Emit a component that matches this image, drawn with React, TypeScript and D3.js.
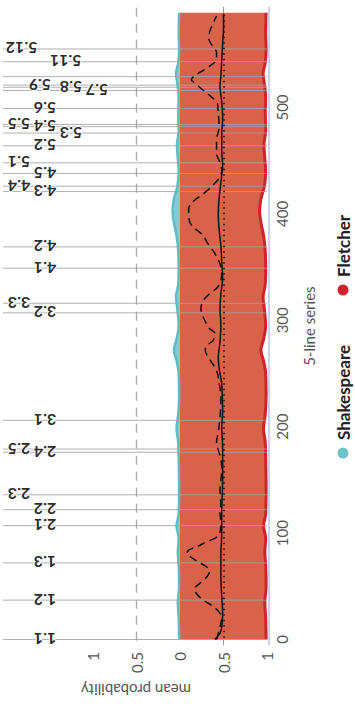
import { useEffect, useRef } from 'react'
import * as d3 from 'd3'

// scene boundaries (5-line series index) and their labels
const sceneStarts = [0, 37, 72, 107, 122, 136, 176, 179, 206, 307, 316, 349, 369, 421, 426, 438, 448, 464, 476, 482, 484, 499, 516, 519, 521, 529, 543, 555]
const sceneLabels = ['1.1', '1.2', '1.3', '2.1', '2.2', '2.3', '2.4', '2.5', '3.1', '3.2', '3.3', '4.1', '4.2', '4.3', '4.4', '4.5', '5.1', '5.2', '5.3', '5.4', '5.5', '5.6', '5.7', '5.8', '5.9', '', '5.11', '5.12']
// label row: -1 outer, 0 default, 1 and 2 inner
const labelTiers = [0, 0, 0, 0, 0, -1, 0, -1, 0, 0, -1, 0, 0, 0, -1, 0, -1, 0, 1, 0, -1, 0, 2, 1, -0.2, 0, 0.8, -0.9]

const shakespeare: [number, number][] = [
  [0, 0.01], [20, 0.015], [35, 0.025], [50, 0.01], [70, 0.015], [82, 0.025], [95, 0.015], [107, 0.04], [118, 0.015],
  [140, 0.01], [170, 0.015], [185, 0.02], [198, 0.04], [212, 0.02], [230, 0.01], [250, 0.015], [262, 0.04], [272, 0.07],
  [282, 0.04], [295, 0.015], [310, 0.03], [322, 0.045], [334, 0.02], [348, 0.015], [365, 0.02], [380, 0.04], [392, 0.07],
  [403, 0.085], [414, 0.07], [426, 0.03], [440, 0.015], [452, 0.025], [465, 0.035], [478, 0.015], [495, 0.02], [510, 0.015],
  [522, 0.03], [532, 0.045], [542, 0.02], [555, 0.01], [570, 0.015], [589, 0.01],
]

const fletcher: [number, number][] = [
  [0, 0.99], [20, 0.985], [35, 0.975], [50, 0.99], [70, 0.985], [82, 0.975], [95, 0.985], [107, 0.96], [118, 0.985],
  [140, 0.99], [170, 0.985], [185, 0.98], [198, 0.96], [212, 0.98], [230, 0.99], [250, 0.985], [262, 0.96], [272, 0.93],
  [282, 0.96], [295, 0.985], [310, 0.97], [322, 0.955], [334, 0.98], [348, 0.985], [365, 0.98], [380, 0.96], [392, 0.93],
  [403, 0.915], [414, 0.93], [426, 0.97], [440, 0.985], [452, 0.975], [465, 0.965], [478, 0.985], [495, 0.98], [510, 0.985],
  [522, 0.97], [532, 0.955], [542, 0.98], [555, 0.99], [570, 0.985], [589, 0.99],
]

const dashedSeries: [number, number][] = [
  [0, 0.42], [12, 0.46], [21, 0.48], [31, 0.38], [37, 0.27], [43, 0.19], [48, 0.17], [53, 0.23], [59, 0.31], [64, 0.34],
  [68, 0.31], [73, 0.21], [78, 0.115], [81, 0.08], [84, 0.1], [87, 0.19], [92, 0.31], [95, 0.4], [101, 0.46], [109, 0.47],
  [119, 0.46], [128, 0.47], [140, 0.46], [150, 0.47], [160, 0.48], [170, 0.47], [178, 0.44], [185, 0.42], [195, 0.44],
  [209, 0.46], [228, 0.47], [241, 0.45], [253, 0.42], [261, 0.36], [267, 0.31], [272, 0.29], [277, 0.32], [281, 0.38],
  [288, 0.4], [292, 0.34], [299, 0.29], [307, 0.25], [311, 0.24], [319, 0.27], [325, 0.34], [330, 0.42], [335, 0.46],
  [344, 0.48], [353, 0.46], [363, 0.4], [372, 0.32], [381, 0.25], [385, 0.19], [393, 0.11], [401, 0.1], [405, 0.1],
  [413, 0.17], [419, 0.27], [427, 0.38], [435, 0.46], [440, 0.48], [448, 0.46], [457, 0.42], [469, 0.42], [482, 0.45],
  [495, 0.44], [504, 0.43], [510, 0.36], [516, 0.27], [523, 0.17], [526, 0.13], [531, 0.19], [535, 0.27], [540, 0.36],
  [545, 0.42], [552, 0.42], [557, 0.38], [565, 0.33], [571, 0.34], [579, 0.38], [586, 0.42],
]

const solidSeries: [number, number][] = [
  [0, 0.4], [6, 0.46], [12, 0.48], [25, 0.49], [40, 0.48], [60, 0.47], [80, 0.47], [100, 0.48], [120, 0.48], [150, 0.49],
  [180, 0.49], [200, 0.48], [215, 0.49], [240, 0.48], [255, 0.45], [265, 0.44], [280, 0.46], [295, 0.47], [310, 0.46],
  [325, 0.47], [340, 0.49], [355, 0.48], [370, 0.47], [385, 0.45], [400, 0.44], [415, 0.45], [430, 0.47], [445, 0.49],
  [460, 0.48], [475, 0.48], [490, 0.49], [505, 0.48], [520, 0.46], [530, 0.47], [545, 0.48], [560, 0.49], [575, 0.5], [588, 0.5],
]

const lineTicks = [0, 100, 200, 300, 400, 500]
const probTicks = [0, 0.5, 1]
const legendItems = ['Shakespeare', 'Fletcher']

export default function App() {
  const svgRef = useRef<SVGSVGElement>(null)

  useEffect(() => {
    if (!svgRef.current) return
    const width = 355
    const height = 704
    const svg = d3.select(svgRef.current)
    svg.selectAll('*').remove()
    svg.attr('width', width).attr('height', height)

    const font = 'Lato, "Open Sans", sans-serif'

    // series index runs bottom -> top
    const sy = d3.scaleLinear().domain([0, 589]).range([639.5, 12.8])
    // lower panel (Fletcher) and mirrored upper panel
    const pLow = d3.scaleLinear().domain([0, 1]).range([180, 267])
    const pUp = d3.scaleLinear().domain([0, 1]).range([180, 93])
    const tierX = d3.scaleLinear().domain([0, 1]).range([45, 71])

    const axisTop = sy(0) + 6
    const axisBottom = sy(589) - 6

    // dashed reference in upper panel
    svg.append('line')
      .attr('x1', pUp(0.5)).attr('x2', pUp(0.5))
      .attr('y1', axisBottom + 1).attr('y2', axisTop)
      .attr('stroke', '#a9a9a9').attr('stroke-width', 1.3)
      .attr('stroke-dasharray', '9,7')

    // gray 0.5 rule in lower panel
    svg.append('line')
      .attr('x1', pLow(0.5)).attr('x2', pLow(0.5))
      .attr('y1', axisBottom).attr('y2', axisTop)
      .attr('stroke', '#999').attr('stroke-width', 1)

    // Fletcher area
    const fArea = d3.area<[number, number]>()
      .y((d) => sy(d[0]))
      .x0(pLow(0))
      .x1((d) => pLow(d[1]))
      .curve(d3.curveMonotoneY)
    svg.append('path').datum(fletcher).attr('fill', '#d9624b').attr('d', fArea)

    // Shakespeare area (upper panel)
    const sArea = d3.area<[number, number]>()
      .y((d) => sy(d[0]))
      .x0(pUp(0))
      .x1((d) => pUp(d[1]))
      .curve(d3.curveMonotoneY)
    svg.append('path').datum(shakespeare).attr('fill', '#82cdd1').attr('d', sArea)

    const lineOf = (scale: d3.ScaleLinear<number, number>) =>
      d3.line<[number, number]>()
        .y((d) => sy(d[0]))
        .x((d) => scale(d[1]))
        .curve(d3.curveMonotoneY)

    svg.append('path').datum(shakespeare)
      .attr('fill', 'none').attr('stroke', '#5dbdc3').attr('stroke-width', 2.5)
      .attr('d', lineOf(pUp))

    svg.append('path').datum(fletcher)
      .attr('fill', 'none').attr('stroke', '#d0232b').attr('stroke-width', 3)
      .attr('d', lineOf(pLow))

    // series axis line
    svg.append('line')
      .attr('x1', pLow(1) + 2).attr('x2', pLow(1) + 2)
      .attr('y1', axisBottom).attr('y2', axisTop)
      .attr('stroke', '#c6d3ea').attr('stroke-width', 2)

    // scene boundary lines
    svg.append('g').selectAll('line')
      .data(sceneStarts)
      .join('line')
      .attr('x1', 3).attr('x2', pLow(1))
      .attr('y1', (d) => sy(d)).attr('y2', (d) => sy(d))
      .attr('stroke', '#a3a3a3').attr('stroke-width', 1).attr('opacity', 0.85)

    // black series
    svg.append('line')
      .attr('x1', pLow(0.5) + 0.5).attr('x2', pLow(0.5) + 0.5)
      .attr('y1', sy(589) + 2).attr('y2', sy(0))
      .attr('stroke', '#111').attr('stroke-width', 1.6)
      .attr('stroke-dasharray', '1.5,4')

    svg.append('path').datum(dashedSeries)
      .attr('fill', 'none').attr('stroke', '#111').attr('stroke-width', 1.5)
      .attr('stroke-dasharray', '8,5')
      .attr('d', lineOf(pLow))

    svg.append('path').datum(solidSeries)
      .attr('fill', 'none').attr('stroke', '#111').attr('stroke-width', 1.5)
      .attr('d', lineOf(pLow))

    // scene labels, upside down
    svg.append('g').selectAll('text')
      .data(sceneStarts.map((s, i) => ({ s, label: sceneLabels[i], tier: labelTiers[i] })).filter((d) => d.label))
      .join('text')
      .attr('transform', (d) => `translate(${tierX(d.tier)},${sy(d.s)}) rotate(180)`)
      .attr('text-anchor', 'middle')
      .attr('dominant-baseline', 'central')
      .attr('font-family', font)
      .attr('font-weight', 700)
      .attr('font-size', '16px')
      .attr('fill', '#2b2b2b')
      .attr('stroke', '#fff').attr('stroke-width', 2).attr('paint-order', 'stroke')
      .text((d) => d.label)

    // series tick labels
    svg.append('g').selectAll('text')
      .data(lineTicks)
      .join('text')
      .attr('transform', (d) => `translate(282,${sy(d)}) rotate(-90)`)
      .attr('text-anchor', 'middle')
      .attr('dominant-baseline', 'central')
      .attr('font-family', font)
      .attr('font-size', '15px')
      .attr('fill', '#555')
      .text((d) => d)

    svg.append('text')
      .attr('transform', `translate(309,${(sy(0) + sy(589)) / 2}) rotate(-90)`)
      .attr('text-anchor', 'middle')
      .attr('dominant-baseline', 'central')
      .attr('font-family', font)
      .attr('font-size', '15px')
      .attr('fill', '#555')
      .text('5-line series')

    // probability tick labels for both panels
    const probLabels = [
      ...probTicks.map((t) => ({ x: pUp(t), t })),
      ...probTicks.filter((t) => t > 0).map((t) => ({ x: pLow(t), t })),
    ]
    svg.append('g').selectAll('text')
      .data(probLabels)
      .join('text')
      .attr('transform', (d) => `translate(${d.x},652) rotate(-90)`)
      .attr('text-anchor', 'end')
      .attr('dominant-baseline', 'central')
      .attr('font-family', font)
      .attr('font-size', '15px')
      .attr('fill', '#555')
      .text((d) => d.t)

    svg.append('text')
      .attr('transform', `translate(136,690) rotate(180)`)
      .attr('text-anchor', 'middle')
      .attr('dominant-baseline', 'central')
      .attr('font-family', font)
      .attr('font-size', '15px')
      .attr('fill', '#555')
      .text('mean probability')

    // legend
    const legendColors = ['#6cc3c8', '#d0232b']
    const legendStart = [453, 290]
    const lg = svg.append('g')
    legendItems.forEach((name, i) => {
      lg.append('circle')
        .attr('cx', 343).attr('cy', legendStart[i])
        .attr('r', 5.5).attr('fill', legendColors[i])
      lg.append('text')
        .attr('transform', `translate(343,${legendStart[i] - 13}) rotate(-90)`)
        .attr('text-anchor', 'start')
        .attr('dominant-baseline', 'central')
        .attr('font-family', font)
        .attr('font-weight', 700)
        .attr('font-size', '17px')
        .attr('fill', '#222')
        .text(name)
    })
  }, [])

  return (
    <div style={{ position: 'absolute', left: 0, top: 0 }}>
      <svg ref={svgRef} style={{ display: 'block' }}></svg>
    </div>
  )
}
